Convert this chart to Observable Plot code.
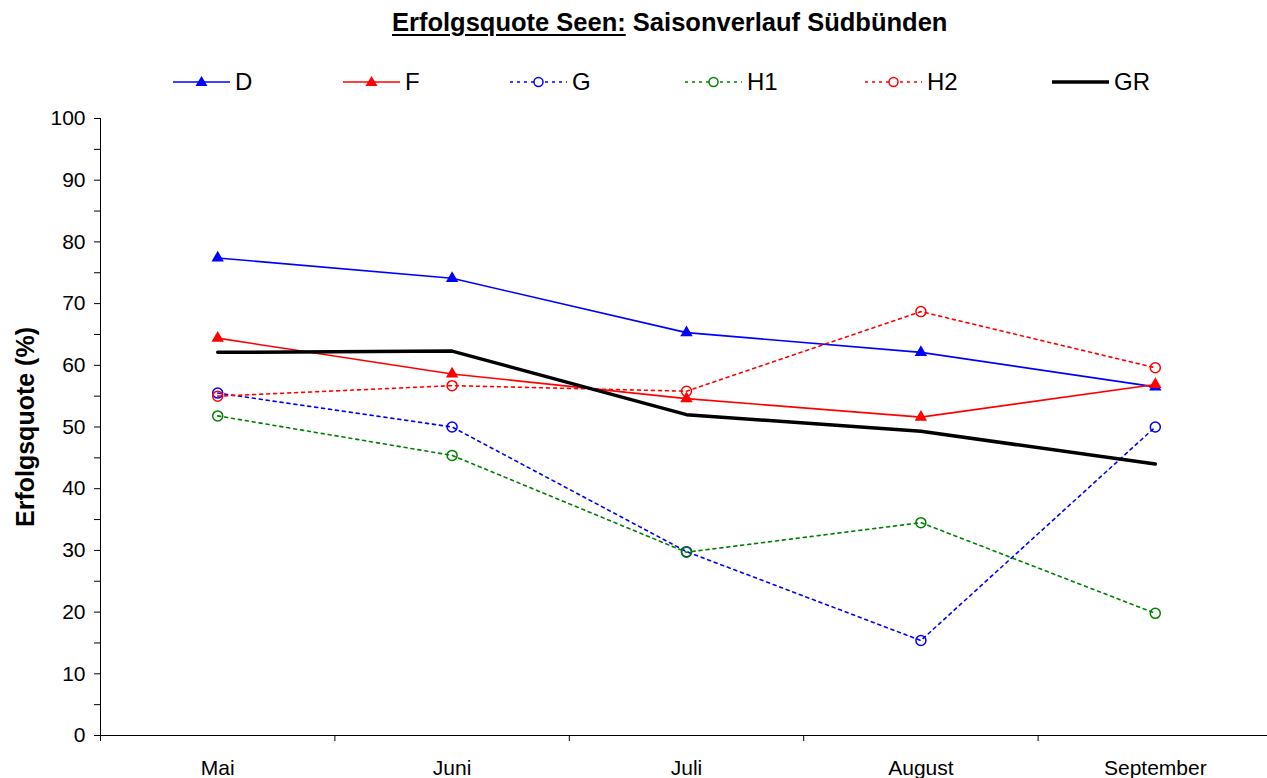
<!DOCTYPE html>
<html><head><meta charset="utf-8">
<script src="https://cdn.jsdelivr.net/npm/d3@7"></script>
<script src="https://cdn.jsdelivr.net/npm/@observablehq/plot@0.6"></script>
<style>
body{margin:0;background:#fff;font-family:"Liberation Sans",Arial,sans-serif;color:#000;}
#wrap{position:relative;width:1267px;overflow:hidden;}
#title{position:relative;height:52px;}
#title .t{position:absolute;left:392px;top:7px;font-weight:bold;font-size:25.5px;line-height:30px;white-space:nowrap;}
#title .t u{text-decoration-thickness:2px;text-underline-offset:3px;}
#legend{position:relative;height:58px;}
.item{position:absolute;top:15px;height:30px;display:flex;align-items:center;font-size:24px;line-height:30px;white-space:nowrap;}
.item svg{margin-right:5px;}
</style>
</head><body>
<div id="wrap">
  <div id="title"><span class="t"><u>Erfolgsquote Seen:</u> Saisonverlauf Südbünden</span></div>
  <div id="legend"></div>
  <div id="chart"></div>
</div>
<script>
const months = ["Mai", "Juni", "Juli", "August", "September"];
const seriesNames = ["D", "F", "G", "H1", "H2", "GR"];
const D  = [77.4, 74.1, 65.3, 62.1, 56.5];
const F  = [64.4, 58.6, 54.6, 51.6, 56.9];
const G  = [55.5, 50.0, 29.8, 15.4, 50.0];
const H1 = [51.8, 45.4, 29.7, 34.5, 19.8];
const H2 = [55.0, 56.7, 55.8, 68.7, 59.6];
const GR = [62.1, 62.3, 52.0, 49.3, 44.0];
const yTicks = [0, 10, 20, 30, 40, 50, 60, 70, 80, 90, 100];
const yMinor = [5, 15, 25, 35, 45, 55, 65, 75, 85, 95];

const values = {D, F, G, H1, H2, GR};
const styles = {
  D:  {color: "#0000ff", width: 1.6, dash: null,  marker: "triangle"},
  F:  {color: "#ff0000", width: 1.6, dash: null,  marker: "triangle"},
  G:  {color: "#0000ff", width: 1.6, dash: "3,4", marker: "circle"},
  H1: {color: "#008000", width: 1.6, dash: "3,4", marker: "circle"},
  H2: {color: "#ff0000", width: 1.6, dash: "3,4", marker: "circle"},
  GR: {color: "#000000", width: 3.5, dash: null,  marker: null}
};
const legendLeft = {D: 173, F: 343, G: 510, H1: 685, H2: 865, GR: 1052};

const rows = s => months.map((m, i) => ({series: s, i, value: values[s][i]}));

// legend
const legend = document.getElementById("legend");
for (const s of seriesNames) {
  const st = styles[s];
  const item = document.createElement("div");
  item.className = "item";
  item.style.left = legendLeft[s] + "px";
  let mk = "";
  if (st.marker === "triangle") mk = `<path d="M28.5,9 L34.5,19 L22.5,19 Z" fill="${st.color}"/>`;
  if (st.marker === "circle") mk = `<circle cx="28.5" cy="15" r="4.5" fill="#fff" stroke="${st.color}" stroke-width="1.5"/>`;
  item.innerHTML = `<svg width="57" height="30"><line x1="0" x2="57" y1="15" y2="15" stroke="${st.color}" stroke-width="${st.width}" ${st.dash ? `stroke-dasharray="${st.dash}"` : ""}/>${mk}</svg><span>${s}</span>`;
  legend.appendChild(item);
}

const marks = [
  Plot.axisY(yTicks, {tickSize: 6, tickPadding: 9, fontSize: 21, label: null, stroke: "#000"}),
  Plot.axisY(yMinor, {tickSize: 6, tickFormat: () => "", label: null}),
  Plot.axisX([-0.5, 0.5, 1.5, 2.5, 3.5, 4.5], {tickSize: 6, tickFormat: () => "", label: null}),
  Plot.axisX([0, 1, 2, 3, 4], {tickSize: 0, tickPadding: 25, fontSize: 21, tickFormat: i => months[i], label: null}),
  Plot.ruleY([0], {stroke: "#000", strokeWidth: 1}),
  Plot.ruleX([-0.5], {stroke: "#000", strokeWidth: 1}),
  Plot.text(["Erfolgsquote (%)"], {frameAnchor: "left", textAnchor: "middle", rotate: -90, dx: -75, dy: 0, fontSize: 25, fontWeight: "bold", fill: "#000"})
];
for (const s of seriesNames) {
  const st = styles[s];
  const data = rows(s);
  marks.push(Plot.line(data, {x: "i", y: "value", stroke: st.color, strokeWidth: st.width, strokeDasharray: st.dash, strokeLinejoin: "miter"}));
  if (st.marker === "triangle") marks.push(Plot.dot(data, {x: "i", y: "value", symbol: "triangle", r: 4.6, fill: st.color, stroke: "none"}));
  if (st.marker === "circle") marks.push(Plot.dot(data, {x: "i", y: "value", symbol: "circle", r: 5, fill: "none", stroke: st.color, strokeWidth: 1.5}));
}

const chart = Plot.plot({
  width: 1267,
  height: 668,
  marginTop: 8,
  marginBottom: 43,
  marginLeft: 100,
  marginRight: 0,
  style: {fontFamily: "'Liberation Sans', Arial, sans-serif", fontSize: "21px", color: "#000", background: "#fff", overflow: "visible"},
  x: {type: "linear", domain: [-0.5, 4.5], range: [100, 1272]},
  y: {domain: [0, 100]},
  marks
});
document.getElementById("chart").appendChild(chart);
</script>
</body></html>
